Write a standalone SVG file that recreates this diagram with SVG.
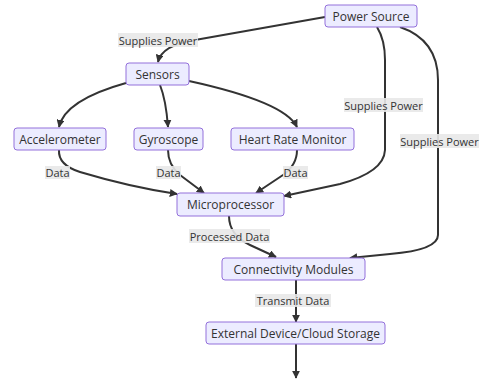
<svg xmlns="http://www.w3.org/2000/svg" width="485" height="381" viewBox="0 0 485 381">
<style>
.node rect{fill:#ECECFF;stroke:#9370DB;stroke-width:1}
.node text{font-family:"Open Sans",sans-serif;font-size:12px;fill:#333;text-anchor:middle;dominant-baseline:central}
.edge{fill:none;stroke:#333;stroke-width:2}
.lbl rect{fill:#e8e8e8;opacity:0.9}
.lbl text{font-family:"Open Sans",sans-serif;font-size:11px;fill:#333;text-anchor:middle;dominant-baseline:central}
</style>
<defs>
<marker id="ah" viewBox="0 0 10 10" refX="9" refY="5" markerWidth="8" markerHeight="8" orient="auto-start-reverse" markerUnits="userSpaceOnUse"><path d="M0,0 L10,5 L0,10 z" fill="#333"/></marker>
</defs>
<rect width="485" height="381" fill="#fff"/>
<g id="connectors">
<path class="edge" marker-end="url(#ah)" d="M325,17 L195,40 Q162,45 158,62"/>
<path class="edge" marker-end="url(#ah)" d="M377,27 Q385,40 385,60 L385,150 Q384,172 340,184 L284,196"/>
<path class="edge" marker-end="url(#ah)" d="M400,27 Q438,40 438,80 L438,235 Q438,250 390,254 L350,258"/>
<path class="edge" marker-end="url(#ah)" d="M126,83 Q65,100 59,127"/>
<path class="edge" marker-end="url(#ah)" d="M160,85 Q166,100 168,127"/>
<path class="edge" marker-end="url(#ah)" d="M189,81 Q285,102 297,127"/>
<path class="edge" marker-end="url(#ah)" d="M59,150 Q58,165 80,172 Q130,187 177,194"/>
<path class="edge" marker-end="url(#ah)" d="M168,150 Q168,165 180,175 L204,193"/>
<path class="edge" marker-end="url(#ah)" d="M297,150 Q297,165 283,175 L256,193"/>
<path class="edge" marker-end="url(#ah)" d="M229,216 Q229,235 250,245 L276,257"/>
<path class="edge" marker-end="url(#ah)" d="M296,280 L296,322"/>
<path class="edge" marker-end="url(#ah)" d="M296,344 L296,378"/>
</g>
<g id="edge-labels">
<g class="lbl"><rect x="118" y="33" width="80" height="14"/><text x="158" y="40">Supplies Power</text></g>
<g class="lbl"><rect x="344" y="98" width="79" height="14"/><text x="383.5" y="105">Supplies Power</text></g>
<g class="lbl"><rect x="400" y="134" width="79" height="14"/><text x="439.5" y="141">Supplies Power</text></g>
<g class="lbl"><rect x="45" y="166" width="25" height="13"/><text x="57.5" y="172.5">Data</text></g>
<g class="lbl"><rect x="156" y="166" width="25" height="13"/><text x="168.5" y="172.5">Data</text></g>
<g class="lbl"><rect x="283" y="166" width="25" height="13"/><text x="295.5" y="172.5">Data</text></g>
<g class="lbl"><rect x="189" y="229" width="81" height="14"/><text x="229.5" y="236">Processed Data</text></g>
<g class="lbl"><rect x="255" y="294" width="76" height="13"/><text x="293" y="300.5">Transmit Data</text></g>
</g>
<g id="power-source" class="node"><rect x="325" y="5" width="92" height="22" rx="3"/><text x="371" y="16">Power Source</text></g>
<g id="sensors" class="node"><rect x="126" y="63" width="63" height="22" rx="3"/><text x="157.5" y="74">Sensors</text></g>
<g id="accelerometer" class="node"><rect x="14" y="128" width="92" height="22" rx="3"/><text x="60" y="139">Accelerometer</text></g>
<g id="gyroscope" class="node"><rect x="134" y="128" width="69" height="22" rx="3"/><text x="168.5" y="139">Gyroscope</text></g>
<g id="heart-rate-monitor" class="node"><rect x="231" y="128" width="123" height="22" rx="3"/><text x="292.5" y="139">Heart Rate Monitor</text></g>
<g id="microprocessor" class="node"><rect x="177" y="193" width="107" height="23" rx="3"/><text x="230.5" y="204.5">Microprocessor</text></g>
<g id="connectivity-modules" class="node"><rect x="222" y="258" width="143" height="22" rx="3"/><text x="293.5" y="269">Connectivity Modules</text></g>
<g id="external-storage" class="node"><rect x="206" y="322" width="179" height="22" rx="3"/><text x="295.5" y="333">External Device/Cloud Storage</text></g>
</svg>
